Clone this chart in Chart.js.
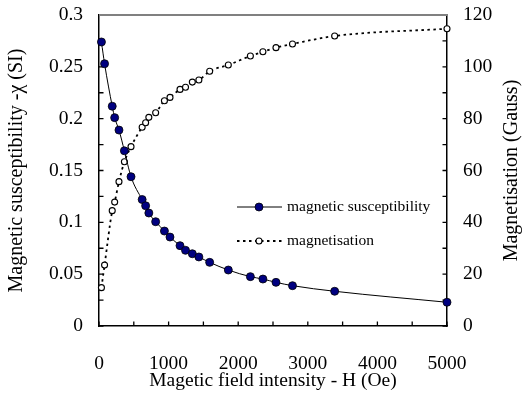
<!DOCTYPE html>
<html>
<head>
<meta charset="utf-8">
<script src="https://cdn.jsdelivr.net/npm/chart.js@4.4.1/dist/chart.umd.min.js"></script>
<style>
  html, body { margin: 0; padding: 0; background: #fff; }
</style>
</head>
<body>
<canvas id="magChart" width="527" height="413"></canvas>
<script>
// field intensity H (Oe), shared by both series
const fieldH = [35, 80, 190, 225, 287, 365, 460, 620, 670, 716, 814, 940, 1020, 1164, 1243,
                1341, 1435, 1590, 1858, 2175, 2355, 2543, 2780, 3386, 5000];
// magnetic susceptibility -chi (SI), left axis
const susceptibility = [0.274, 0.253, 0.212, 0.201, 0.189, 0.169, 0.144, 0.122, 0.116, 0.109,
                        0.1006, 0.0916, 0.0858, 0.0775, 0.073, 0.0697, 0.0666, 0.0614, 0.054,
                        0.0476, 0.0453, 0.0421, 0.0389, 0.0335, 0.0229];
// magnetisation (Gauss), right axis
const magnetisation = [14.8, 23.5, 44.5, 47.8, 55.7, 63.4, 69.2, 76.7, 78.4, 80.5, 82.3, 86.9,
                       88.2, 91.3, 92.1, 94.1, 94.9, 98.3, 100.7, 104.2, 105.8, 107.4, 108.8,
                       111.9, 114.7];
const seriesNames = ['magnetic susceptibility', 'magnetisation'];
const axisTitles = ['Magetic field intensity - H (Oe)', 'Magnetic susceptibility -\u03C7 (SI)', 'Magnetisation (Gauss)'];

const serif = "'Liberation Serif', 'Times New Roman', serif";
const tickFont = { family: serif, size: 19.5 };
const titleFont = { family: serif, size: 19.5 };
Chart.defaults.font.family = serif;
Chart.defaults.font.size = 18;
Chart.defaults.color = '#000';

const toPoints = (ys) => fieldH.map((h, i) => ({ x: h, y: ys[i] }));

// tick marks pointing into the plot, plus the grey top frame line
const frameTicks = {
  id: 'frameTicks',
  beforeDatasetsDraw(chart) {
    const { ctx, chartArea: a } = chart;
    const len = 4.5;
    ctx.save();
    ctx.strokeStyle = '#000';
    ctx.lineWidth = 1.3;
    ctx.beginPath();
    chart.scales.x.ticks.forEach(t => {
      const px = chart.scales.x.getPixelForValue(t.value);
      ctx.moveTo(px, a.bottom); ctx.lineTo(px, a.bottom - len);
    });
    chart.scales.y.ticks.forEach(t => {
      const py = chart.scales.y.getPixelForValue(t.value);
      ctx.moveTo(a.left, py); ctx.lineTo(a.left + len, py);
    });
    chart.scales.y2.ticks.forEach(t => {
      const py = chart.scales.y2.getPixelForValue(t.value);
      ctx.moveTo(a.right, py); ctx.lineTo(a.right - len, py);
    });
    ctx.stroke();
    ctx.strokeStyle = '#808080';
    ctx.lineWidth = 2;
    ctx.beginPath();
    ctx.moveTo(a.left, a.top); ctx.lineTo(a.right, a.top);
    ctx.stroke();
    ctx.restore();
  },
  afterDraw(chart) {
    const { ctx, chartArea: a } = chart;
    ctx.save();
    // right axis title, reading bottom to top
    ctx.font = '20px ' + serif;
    ctx.fillStyle = '#000';
    ctx.textAlign = 'center';
    ctx.textBaseline = 'middle';
    ctx.translate(512, (a.top + a.bottom) / 2);
    ctx.rotate(-Math.PI / 2);
    ctx.fillText(axisTitles[2], 0, 0);
    ctx.restore();

    // legend inside the plot
    ctx.save();
    ctx.font = '15.5px ' + serif;
    ctx.textBaseline = 'middle';
    ctx.textAlign = 'left';
    const rows = [207, 241];
    chart.data.datasets.forEach((ds, i) => {
      const y = rows[i];
      ctx.strokeStyle = ds.borderColor;
      ctx.lineWidth = ds.borderWidth;
      ctx.setLineDash(ds.borderDash || []);
      ctx.beginPath();
      ctx.moveTo(237, y); ctx.lineTo(282, y);
      ctx.stroke();
      ctx.setLineDash([]);
      ctx.beginPath();
      ctx.arc(259, y, ds.pointRadius, 0, Math.PI * 2);
      ctx.fillStyle = ds.pointBackgroundColor;
      ctx.fill();
      ctx.lineWidth = ds.pointBorderWidth;
      ctx.strokeStyle = ds.pointBorderColor;
      ctx.stroke();
      ctx.fillStyle = '#000';
      ctx.fillText(ds.label, 287, y);
    });
    ctx.restore();
  }
};

const fmt = (v) => parseFloat(v.toFixed(3)).toString();

new Chart(document.getElementById('magChart'), {
  type: 'line',
  data: {
    datasets: [
      {
        label: seriesNames[0],
        data: toPoints(susceptibility),
        yAxisID: 'y',
        borderColor: '#000',
        borderWidth: 1,
        cubicInterpolationMode: 'monotone',
        pointRadius: 4,
        pointBackgroundColor: '#000080',
        pointBorderColor: '#000',
        pointBorderWidth: 0.8,
        clip: false
      },
      {
        label: seriesNames[1],
        data: toPoints(magnetisation),
        yAxisID: 'y2',
        borderColor: '#000',
        borderWidth: 1.8,
        borderDash: [2.5, 3.5],
        cubicInterpolationMode: 'monotone',
        pointRadius: 3,
        pointBackgroundColor: '#fff',
        pointBorderColor: '#000',
        pointBorderWidth: 1.1,
        clip: false
      }
    ]
  },
  options: {
    responsive: false,
    devicePixelRatio: 1,
    animation: false,
    layout: { padding: { top: 15, left: 0, right: 0, bottom: 0 } },
    plugins: { legend: { display: false }, tooltip: { enabled: false } },
    scales: {
      x: {
        type: 'linear',
        min: 0, max: 5000,
        grid: { display: false, drawTicks: false },
        border: { color: '#000', width: 1.5 },
        ticks: {
          font: tickFont,
          stepSize: 500, padding: 26, maxRotation: 0, autoSkip: false,
          callback: (v) => (v % 1000 === 0 ? String(v) : '')
        },
        title: { display: true, text: axisTitles[0], font: titleFont, padding: { top: 0, bottom: 20 } },
        afterFit: (s) => { s.height = 87; s.paddingLeft = 0; s.paddingRight = 0; }
      },
      y: {
        position: 'left',
        min: 0, max: 0.3,
        grid: { display: false, drawTicks: false },
        border: { color: '#000', width: 1.5 },
        ticks: {
          font: tickFont,
          stepSize: 0.025, padding: 16, autoSkip: false,
          callback: (v) => (Math.round(v * 1000) % 50 === 0 ? fmt(v) : '')
        },
        title: { display: true, text: axisTitles[1], font: { family: serif, size: 20 }, padding: { top: 5, bottom: 0 } },
        afterFit: (s) => { s.width = 99; s.paddingTop = 0; s.paddingBottom = 0; }
      },
      y2: {
        position: 'right',
        min: 0, max: 120,
        grid: { display: false, drawTicks: false },
        border: { color: '#000', width: 1.5 },
        ticks: {
          font: tickFont,
          stepSize: 10, padding: 16, autoSkip: false,
          callback: (v) => (v % 20 === 0 ? String(v) : '')
        },
        afterFit: (s) => { s.width = 80; s.paddingTop = 0; s.paddingBottom = 0; }
      }
    }
  },
  plugins: [frameTicks]
});
</script>
</body>
</html>
